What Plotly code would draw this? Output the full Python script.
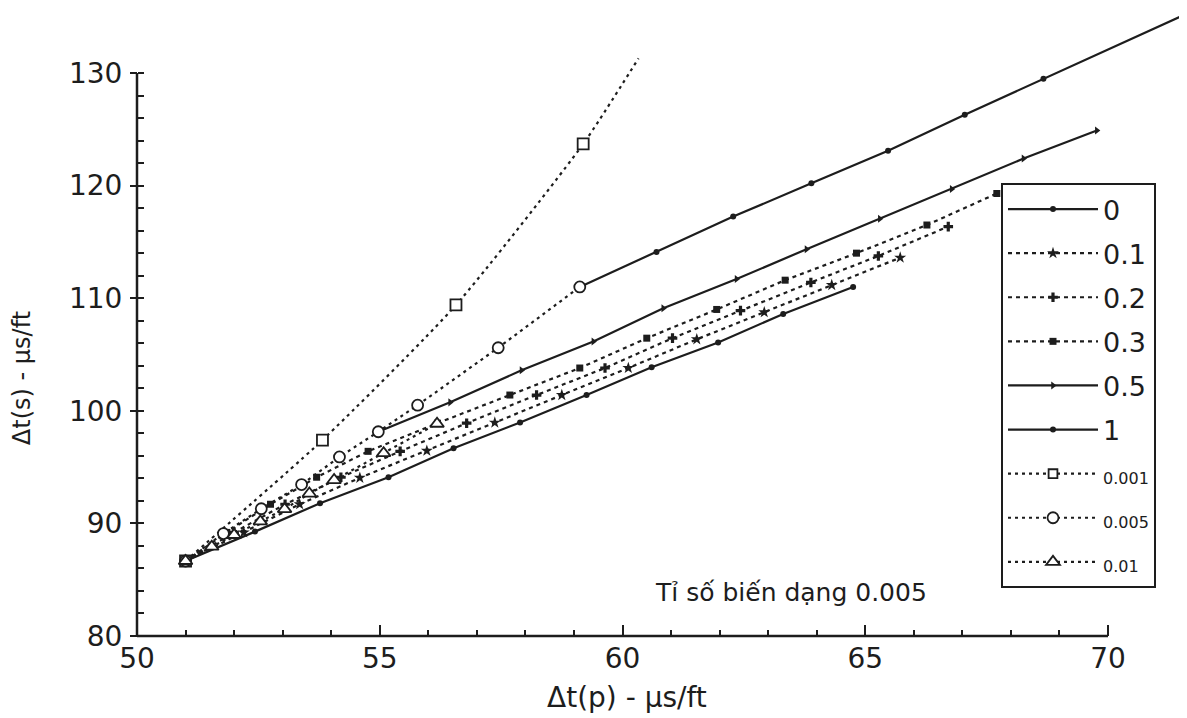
import plotly.graph_objects as go

# ---------------- data ----------------
labels = ["0", "0.1", "0.2", "0.3", "0.5", "1", "0.001", "0.005", "0.01"]

x_sw0 = [51.0, 52.43, 53.77, 55.18, 56.52, 57.89, 59.26, 60.6, 61.97, 63.31, 64.75]
y_sw0 = [86.66, 89.27, 91.79, 94.1, 96.67, 98.96, 101.4, 103.86, 106.06, 108.6, 111.0]

x_sw01 = [51.0, 52.2, 53.35, 54.59, 55.97, 57.37, 58.75, 60.12, 61.53, 62.92, 64.31, 65.72]
y_sw01 = [86.66, 89.2, 91.7, 94.05, 96.45, 98.95, 101.4, 103.8, 106.35, 108.75, 111.17, 113.6]

x_sw02 = [51.0, 52.0, 53.05, 54.2, 55.42, 56.79, 58.23, 59.64, 61.03, 62.43, 63.88, 65.27, 66.71]
y_sw02 = [86.66, 89.2, 91.7, 94.1, 96.4, 98.9, 101.4, 103.8, 106.45, 108.9, 111.4, 113.75, 116.36]

x_sw03 = [51.0, 51.85, 52.75, 53.7, 54.76, 56.19, 57.68, 59.12, 60.5, 61.94, 63.35, 64.82, 66.27, 67.71]
y_sw03 = [86.66, 89.2, 91.7, 94.1, 96.4, 98.9, 101.4, 103.8, 106.45, 109.0, 111.6, 114.0, 116.5, 119.3]

x_sw05 = [54.97, 56.45, 57.92, 59.40, 60.84, 62.35, 63.79, 65.30, 66.78, 68.26, 69.77]
y_sw05 = [98.14, 100.75, 103.6, 106.15, 109.1, 111.7, 114.35, 117.05, 119.7, 122.4, 124.9]

x_sw1 = [59.12, 60.70, 62.28, 63.89, 65.47, 67.05, 68.67, 72.2]
y_sw1 = [111.0, 114.1, 117.25, 120.2, 123.1, 126.3, 129.5, 136.4]

x_ar0001 = [51.0, 53.82, 56.57, 59.19, 60.33]
y_ar0001 = [86.66, 97.4, 109.4, 123.7, 131.3]

x_ar0005 = [51.0, 51.78, 52.56, 53.39, 54.17, 54.97, 55.78, 57.44, 59.12]
y_ar0005 = [86.66, 89.1, 91.3, 93.45, 95.9, 98.14, 100.5, 105.6, 111.0]

x_ar001 = [51.0, 51.54, 52.0, 52.54, 53.04, 53.55, 54.06, 55.08, 56.18]
y_ar001 = [86.66, 87.93, 88.97, 90.18, 91.27, 92.65, 93.85, 96.24, 98.85]

x_ticks = [50, 55, 60, 65, 70]
y_ticks = [80, 90, 100, 110, 120, 130]
x_title = "\u0394t(p) - \u00b5s/ft"
y_title = "\u0394t(s) - \u00b5s/ft"
note = "T\u1ec9 s\u1ed1 bi\u1ebfn d\u1ea1ng 0.005"

# ---------------- styling / layout geometry ----------------
INK = "#1d1d1d"
FONT = "DejaVu Sans"
WIN_W, WIN_H = 1187, 718
OFF = 8                      # default page body margin
W, H = WIN_W - OFF, WIN_H - OFF
PLOT_L, PLOT_B = 127, 640    # plot-area edges in window pixels
ML = PLOT_L - OFF
MB = H - (PLOT_B - OFF)
PW, PH = W - ML, H - MB
PXX, PXY = 48.55, 11.26
xr0 = 50 - 10 / PXX
xr1 = xr0 + PW / PXX
yr0 = 80 - 4 / PXY
yr1 = yr0 + PH / PXY


def paper_x(px):
    return (px - PLOT_L) / PW


def paper_y(py):
    return (PLOT_B - py) / PH


solid = "solid"
dashed = "4px,4px"
dotted = "3px,4px"

series = [
    (labels[0], x_sw0, y_sw0, solid, "circle", 6),
    (labels[1], x_sw01, y_sw01, dashed, "star", 9),
    (labels[2], x_sw02, y_sw02, dashed, "cross", 8),
    (labels[3], x_sw03, y_sw03, dashed, "square", 7),
    (labels[4], x_sw05, y_sw05, solid, "triangle-right", 7),
    (labels[5], x_sw1, y_sw1, solid, "circle", 6),
]

fig = go.Figure()
for name, xs, ys, dash, sym, size in series:
    fig.add_trace(go.Scatter(
        x=xs, y=ys, name=name, mode="lines+markers", legendgroup=name,
        line=dict(color=INK, width=2.2, dash=dash),
        marker=dict(symbol=sym, size=size, color=INK, line=dict(width=0)),
    ))

small = "<span style='font-size:16px'>%s</span>"
open_series = [
    (labels[6], x_ar0001, y_ar0001, "square", 11),
    (labels[7], x_ar0005, y_ar0005, "circle", 11),
    (labels[8], x_ar001, y_ar001, "triangle-up", 12),
]
for name, xs, ys, sym, size in open_series:
    sizes = [size] * len(xs)
    if name == labels[6]:
        sizes[-1] = 0
    fig.add_trace(go.Scatter(
        x=xs, y=ys, name=small % name, mode="lines+markers", legendgroup=name,
        line=dict(color=INK, width=2.2, dash=dotted,
                  shape="spline" if name == labels[6] else "linear", smoothing=0.6),
        marker=dict(symbol=sym, size=sizes, color="#ffffff", opacity=1,
                    line=dict(width=1.8, color=INK)),
    ))

fig.update_layout(
    width=W, height=H,
    margin=dict(l=ML, r=0, t=0, b=MB, pad=0),
    paper_bgcolor="white", plot_bgcolor="white",
    font=dict(family=FONT, color=INK),
    xaxis=dict(
        range=[xr0, xr1], showgrid=False, zeroline=False, showline=False,
        anchor="free", position=(80 - yr0) / (yr1 - yr0),
        tickmode="array", tickvals=x_ticks, ticktext=[str(v) for v in x_ticks],
        ticks="inside", ticklen=11, tickwidth=2, tickcolor=INK,
        tickfont=dict(size=28, family=FONT, color=INK), ticklabelstandoff=3,
        minor=dict(tickmode="array", tickvals=list(range(50, 71)), ticks="inside",
                   ticklen=6, tickwidth=1.5, tickcolor=INK),
    ),
    yaxis=dict(
        range=[yr0, yr1], showgrid=False, zeroline=False, showline=False,
        anchor="free", position=(50 - xr0) / (xr1 - xr0),
        tickmode="array", tickvals=y_ticks, ticktext=[str(v) for v in y_ticks],
        ticks="outside", ticklen=7, tickwidth=2, tickcolor=INK,
        tickfont=dict(size=28, family=FONT, color=INK), ticklabelstandoff=2,
        minor=dict(tickmode="array", tickvals=list(range(80, 131, 2)), ticks="inside",
                   ticklen=6, tickwidth=1.5, tickcolor=INK),
    ),
    shapes=[
        dict(type="line", xref="x", yref="y", x0=50, x1=70, y0=80, y1=80,
             line=dict(color=INK, width=2.5)),
        dict(type="line", xref="x", yref="y", x0=50, x1=50, y0=80, y1=130,
             line=dict(color=INK, width=2.5)),
    ],
    annotations=[
        dict(text=x_title, xref="x", yref="paper", x=60.1, y=paper_y(697),
             xanchor="center", yanchor="middle", showarrow=False,
             font=dict(size=28, family=FONT, color=INK)),
        dict(text=y_title, xref="paper", yref="y", x=paper_x(22), y=102.9,
             xanchor="center", yanchor="middle", showarrow=False, textangle=-90,
             font=dict(size=24, family=FONT, color=INK)),
        dict(text=note, xref="x", yref="y", x=63.47, y=83.9,
             xanchor="center", yanchor="middle", showarrow=False,
             font=dict(size=25, family=FONT, color=INK)),
    ],
    legend=dict(
        x=paper_x(1001), y=paper_y(183),
        xanchor="left", yanchor="top",
        bgcolor="white", bordercolor=INK, borderwidth=2,
        font=dict(size=27, family=FONT, color=INK),
        traceorder="grouped", tracegroupgap=6, itemwidth=90,
    ),
)

fig.write_html("out.html")
